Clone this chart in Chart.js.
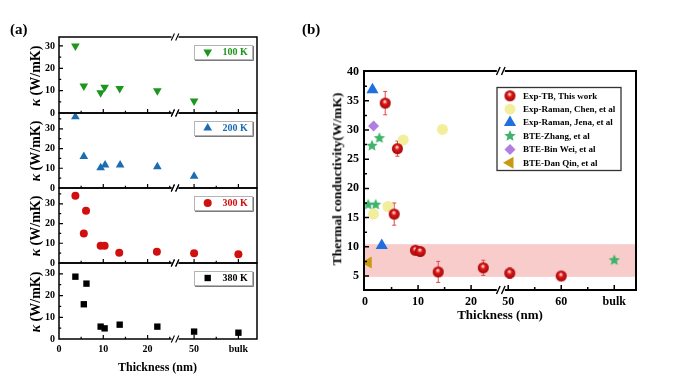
<!DOCTYPE html>
<html><head><meta charset="utf-8">
<script src="https://cdn.jsdelivr.net/npm/chart.js@4/dist/chart.umd.min.js"></script>
<style>
body{margin:0;background:#fff;}
#wrap{position:relative;width:692px;height:378px;overflow:hidden;background:#fff;font-family:'Liberation Serif','Times New Roman',serif;color:#000}
canvas{position:absolute;left:0;top:0}
.lbl{position:absolute;white-space:nowrap;font-weight:bold;line-height:1}
</style></head>
<body><div id="wrap">
<canvas id="a1" width="692" height="378"></canvas>
<canvas id="a2" width="692" height="378"></canvas>
<canvas id="a3" width="692" height="378"></canvas>
<canvas id="a4" width="692" height="378"></canvas>
<canvas id="b1" width="692" height="378"></canvas>
<div class="lbl" style="left:10px;top:22px;font-size:15px">(a)</div>
<div class="lbl" style="left:302px;top:22px;font-size:15px">(b)</div>
<div class="lbl" style="left:157.5px;top:366.5px;font-size:12px;transform:translate(-50%,-50%)">Thickness (nm)</div>
<div class="lbl" style="left:500px;top:314px;font-size:13px;transform:translate(-50%,-50%)">Thickness (nm)</div>
<div class="lbl" style="left:336.5px;top:179px;font-size:13.5px;transform:translate(-50%,-50%) rotate(-90deg)">Thermal conductivity(W/mK)</div>
<div class="lbl" style="left:35.5px;top:76px;font-size:14px;transform:translate(-50%,-50%) rotate(-90deg)"><i>κ</i> (W/mK)</div>
<div class="lbl" style="left:35.5px;top:151px;font-size:14px;transform:translate(-50%,-50%) rotate(-90deg)"><i>κ</i> (W/mK)</div>
<div class="lbl" style="left:35.5px;top:226px;font-size:14px;transform:translate(-50%,-50%) rotate(-90deg)"><i>κ</i> (W/mK)</div>
<div class="lbl" style="left:35.5px;top:302px;font-size:14px;transform:translate(-50%,-50%) rotate(-90deg)"><i>κ</i> (W/mK)</div>
</div>
<script>
// ---------------- Panel (a) data ----------------
const xTickValsA = [0, 10, 20, 50, 'bulk'];
const xTickLabelsA = ['0', '10', '20', '50', 'bulk'];
const yTickValsA = [0, 10, 20, 30];

const thick100 = [3.7, 5.6, 9.4, 10.3, 13.7, 22.2, 50];
const kappa100 = [30.0, 12.1, 9.1, 11.5, 11.0, 10.0, 5.4];
const thick200 = [3.7, 5.6, 9.4, 10.4, 13.8, 22.2, 50];
const kappa200 = [36.1, 15.9, 10.3, 11.6, 11.6, 10.8, 6.0];
const thick300 = [3.7, 6.1, 5.6, 9.4, 10.3, 13.6, 22.1, 50, 'bulk'];
const kappa300 = [34.1, 26.5, 15.0, 8.8, 8.8, 5.2, 5.7, 4.9, 4.4];
const thick380 = [3.7, 6.2, 5.6, 9.4, 10.3, 13.7, 22.2, 50, 'bulk'];
const kappa380 = [28.7, 25.5, 16.0, 5.7, 4.9, 6.6, 5.7, 3.4, 2.9];

// ---------------- Panel (b) data ----------------
const xTickValsB = [0, 10, 20, 50, 60, 'bulk'];
const xTickLabelsB = ['0', '10', '20', '50', '60', 'bulk'];
const yTickValsB = [5, 10, 15, 20, 25, 30, 35, 40];

const thickTB = [3.8, 6.1, 5.5, 9.5, 10.4, 13.8, 22.3, 50.3, 60.0];
const kappaTB = [34.6, 26.8, 15.6, 9.4, 9.2, 5.7, 6.4, 5.5, 5.0];
const errTB = [2.0, 1.3, 1.9, 0.5, 0.5, 1.8, 1.3, 0.9, 0.6];
const thickChen = [1.6, 4.3, 7.2, 14.6];
const kappaChen = [15.6, 16.9, 28.3, 30.1];
const thickJena = [1.4, 3.15];
const kappaJena = [36.9, 10.2];
const thickZhang = [0.6, 2.0, 1.3, 2.7, 'bulk'];
const kappaZhang = [17.2, 17.2, 27.3, 28.6, 7.7];
const thickWei = [1.6];
const kappaWei = [30.7];
const thickQin = [0.6];
const kappaQin = [7.3];
const bandB = [4.85, 10.45];

// ---------------- broken-axis mapping ----------------
const BULK_A = 60, SHIFT_A = 19.5, BREAK_A = 26.2;
const BULK_B = 70, SHIFT_B = 23, BREAK_B = 25.6;
function mapA(t){ if (t === 'bulk') return BULK_A - SHIFT_A; return t > 30 ? t - SHIFT_A : t; }
function mapB(t){ if (t === 'bulk') return BULK_B - SHIFT_B; return t > 30 ? t - SHIFT_B : t; }

const FONT = "'Liberation Serif','Times New Roman',serif";
Chart.defaults.font.family = FONT;
Chart.defaults.font.weight = 'bold';
Chart.defaults.color = '#000';
Chart.defaults.animation = false;

function makeStar(color, R){
  const s = Math.ceil(R*2+2); const c = document.createElement('canvas'); c.width = c.height = s;
  const g = c.getContext('2d'); g.fillStyle = color; g.beginPath();
  for (let i=0;i<10;i++){ const r = i%2 ? R*0.45 : R; const a = -Math.PI/2 + i*Math.PI/5; g.lineTo(s/2 + r*Math.cos(a), s/2 + r*Math.sin(a)); }
  g.closePath(); g.fill(); return c;
}
function makeSphere(R){
  const s = Math.ceil(R*2+2); const c = document.createElement('canvas'); c.width = c.height = s;
  const g = c.getContext('2d'); const cx = s/2, cy = s/2;
  const grd = g.createRadialGradient(cx - R*0.1, cy - R*0.35, 0, cx, cy, R);
  grd.addColorStop(0, '#ffffff'); grd.addColorStop(0.18, '#f7b0b0'); grd.addColorStop(0.42, '#e01818'); grd.addColorStop(1, '#a00606');
  g.fillStyle = grd; g.beginPath(); g.arc(cx, cy, R, 0, Math.PI*2); g.fill(); return c;
}

function framePlugin(cfg){
  return {
    id: 'frame',
    beforeDatasetsDraw(chart){
      const {ctx, chartArea: a, scales: {x, y}} = chart;
      ctx.save();
      if (cfg.band){
        const y1 = y.getPixelForValue(cfg.band[1]), y0 = y.getPixelForValue(cfg.band[0]);
        ctx.fillStyle = 'rgba(240,128,128,0.4)';
        ctx.fillRect(a.left, y1, a.right - a.left, y0 - y1);
      }
      if (cfg.err){
        ctx.strokeStyle = '#e04848'; ctx.lineWidth = 1;
        const e = cfg.err;
        e.xs.forEach((t, i) => {
          const px = x.getPixelForValue(e.map(t));
          const pt = y.getPixelForValue(e.ys[i] + e.err[i]), pb = y.getPixelForValue(e.ys[i] - e.err[i]);
          ctx.beginPath();
          ctx.moveTo(px, pt); ctx.lineTo(px, pb);
          ctx.moveTo(px-2, pt); ctx.lineTo(px+2, pt);
          ctx.moveTo(px-2, pb); ctx.lineTo(px+2, pb);
          ctx.stroke();
        });
      }
      ctx.restore();
    },
    afterDraw(chart){
      const {ctx, chartArea: a, scales: {x, y}} = chart;
      const lw = cfg.lw;
      ctx.save();
      ctx.strokeStyle = '#000'; ctx.lineWidth = lw;
      const bx = x.getPixelForValue(cfg.breakAt); const g = cfg.gap;
      ctx.beginPath();
      ctx.moveTo(a.left, a.top - lw/2); ctx.lineTo(a.left, a.bottom + lw/2);
      ctx.moveTo(a.right, a.top - lw/2); ctx.lineTo(a.right, a.bottom + lw/2);
      [a.top, a.bottom].forEach(yy => {
        ctx.moveTo(a.left, yy); ctx.lineTo(bx - g, yy);
        ctx.moveTo(bx + g, yy); ctx.lineTo(a.right, yy);
      });
      ctx.stroke();
      // break slashes
      ctx.lineWidth = cfg.slw;
      ctx.beginPath();
      [a.top, a.bottom].forEach(yy => {
        [-cfg.sd, cfg.sd].forEach(dx => {
          ctx.moveTo(bx + dx - cfg.sx, yy + cfg.sy); ctx.lineTo(bx + dx + cfg.sx, yy - cfg.sy);
        });
      });
      ctx.stroke();
      // inward ticks
      ctx.lineWidth = cfg.tw;
      ctx.beginPath();
      cfg.xMajor.forEach(v => { const p = x.getPixelForValue(v); ctx.moveTo(p, a.bottom); ctx.lineTo(p, a.bottom - cfg.maj); });
      cfg.xMinor.forEach(v => { const p = x.getPixelForValue(v); ctx.moveTo(p, a.bottom); ctx.lineTo(p, a.bottom - cfg.min); });
      cfg.yMajor.forEach(v => { const p = y.getPixelForValue(v); ctx.moveTo(a.left, p); ctx.lineTo(a.left + cfg.maj, p); });
      cfg.yMinor.forEach(v => { const p = y.getPixelForValue(v); ctx.moveTo(a.left, p); ctx.lineTo(a.left + cfg.min, p); });
      ctx.stroke();
      // legend
      const L = cfg.legend;
      if (L){
        ctx.lineWidth = 1;
        if (L.shadow){
          ctx.strokeStyle = '#b4b4b4';
          ctx.strokeRect(L.x + 0.5, L.y + 0.5, L.w, L.h);
          ctx.strokeStyle = '#7a7a7a';
          ctx.beginPath(); ctx.moveTo(L.x + 1, L.y + L.h + 1.5); ctx.lineTo(L.x + L.w + 1.5, L.y + L.h + 1.5); ctx.lineTo(L.x + L.w + 1.5, L.y + 1); ctx.stroke();
        } else {
          ctx.strokeStyle = '#333'; ctx.lineWidth = 1.3;
          ctx.strokeRect(L.x, L.y, L.w, L.h);
        }
        L.items.forEach((it, i) => {
          const cy = L.y + L.first + i * L.step;
          ctx.fillStyle = it.color; ctx.strokeStyle = it.color;
          Chart.helpers.drawPoint(ctx, {pointStyle: it.style, radius: it.r, rotation: it.rot || 0, borderWidth: 0}, L.mx, cy);
          ctx.fillStyle = it.textColor || '#000';
          ctx.font = 'bold ' + L.fs + 'px ' + FONT;
          ctx.textBaseline = 'middle'; ctx.textAlign = 'left';
          ctx.fillText(it.label, L.tx, cy + 0.5);
        });
      }
      ctx.restore();
    }
  };
}

function makeA(id, top, bottom, ymax, xs, ys, style, radius, rot, color, name, showX){
  const xScale = {
    type: 'linear', min: 0, max: 44.7, display: showX,
    grid: {display: false, drawTicks: false}, border: {display: false},
    ticks: {autoSkip: false, maxRotation: 0, padding: 4, font: {size: 10, weight: 'bold'}, callback: (v, i) => xTickLabelsA[i]},
    afterBuildTicks: s => { s.ticks = xTickValsA.map(t => ({value: mapA(t)})); }
  };
  if (showX) xScale.afterFit = s => { s.height = 20; };
  const yMinor = [5, 15, 25, 35].filter(v => v < ymax);
  new Chart(document.getElementById(id), {
    type: 'scatter',
    data: {datasets: [{
      data: xs.map((t, i) => ({x: mapA(t), y: ys[i]})),
      pointStyle: style, pointRadius: radius, pointRotation: rot,
      pointBackgroundColor: color, pointBorderColor: color, pointBorderWidth: 0, clip: false
    }]},
    options: {
      responsive: false, animation: false, events: [],
      layout: {padding: {left: 19, right: 692 - 257, top: top, bottom: 378 - bottom - (showX ? 20 : 0)}},
      plugins: {legend: {display: false}, tooltip: {enabled: false}},
      scales: {
        x: xScale,
        y: {
          type: 'linear', min: 0, max: ymax,
          grid: {display: false, drawTicks: false}, border: {display: false},
          ticks: {padding: 4, font: {size: 10, weight: 'bold'}, callback: v => String(v)},
          afterBuildTicks: s => { s.ticks = yTickValsA.map(v => ({value: v})); },
          afterFit: s => { s.width = 40; }
        }
      }
    },
    plugins: [framePlugin({
      lw: 1.5, breakAt: BREAK_A, gap: 3.5, slw: 1.1, sd: 2.2, sx: 1.6, sy: 3.5,
      tw: 1.2, maj: 4, min: 2.2,
      xMajor: [10, 20, mapA(50), mapA('bulk')], xMinor: [5, 15, 25, mapA(55)],
      yMajor: [10, 20, 30], yMinor: yMinor,
      legend: {shadow: true, x: 194, y: top + 8, w: 58, h: 14, first: 7, step: 0, mx: 207.7, tx: 222.5, fs: 10,
        items: [{label: name, style: style, r: radius, rot: rot, color: color, textColor: color}]}
    })]
  });
}

makeA('a1', 37, 113, 34, thick100, kappa100, 'triangle', 5, 180, '#1c961c', '100 K', false);
makeA('a2', 113, 188, 38, thick200, kappa200, 'triangle', 5, 0, '#1b6db3', '200 K', false);
makeA('a3', 188, 263, 38, thick300, kappa300, 'circle', 4, 0, '#d10f0f', '300 K', false);
makeA('a4', 263, 339, 35, thick380, kappa380, 'rect', 4.5, 0, '#000000', '380 K', true);

// ---------------- Panel (b) ----------------
const sphere = makeSphere(5.5);
const star = makeStar('#3db36b', 6);
const seriesB = [
  {label: 'Exp-TB, This work', xs: thickTB, ys: kappaTB, style: sphere, r: 5.5, rot: 0, color: '#d01010'},
  {label: 'Exp-Raman, Chen, et al', xs: thickChen, ys: kappaChen, style: 'circle', r: 5.5, rot: 0, color: '#f3ee9c'},
  {label: 'Exp-Raman, Jena, et al', xs: thickJena, ys: kappaJena, style: 'triangle', r: 7, rot: 0, color: '#1f6fe0'},
  {label: 'BTE-Zhang, et al', xs: thickZhang, ys: kappaZhang, style: star, r: 6, rot: 0, color: '#3db36b'},
  {label: 'BTE-Bin Wei, et al', xs: thickWei, ys: kappaWei, style: 'rectRot', r: 5.5, rot: 0, color: '#b07ee0'},
  {label: 'BTE-Dan Qin, et al', xs: thickQin, ys: kappaQin, style: 'triangle', r: 7, rot: -90, color: '#c99a10'}
];

new Chart(document.getElementById('b1'), {
  type: 'scatter',
  data: {datasets: seriesB.map(s => ({
    label: s.label,
    data: s.xs.map((t, i) => ({x: mapB(t), y: s.ys[i]})),
    pointStyle: s.style, pointRadius: s.r, pointRotation: s.rot,
    pointBackgroundColor: s.color, pointBorderColor: s.color, pointBorderWidth: 0, clip: 0
  }))},
  options: {
    responsive: false, animation: false, events: [],
    layout: {padding: {left: 324, right: 692 - 636, top: 71, bottom: 378 - 290 - 20}},
    plugins: {legend: {display: false}, tooltip: {enabled: false}},
    scales: {
      x: {
        type: 'linear', min: -0.2, max: 51.1,
        grid: {display: false, drawTicks: false}, border: {display: false},
        ticks: {autoSkip: false, maxRotation: 0, padding: 5, font: {size: 12, weight: 'bold'}, callback: (v, i) => xTickLabelsB[i]},
        afterBuildTicks: s => { s.ticks = xTickValsB.map(t => ({value: mapB(t)})); },
        afterFit: s => { s.height = 20; }
      },
      y: {
        type: 'linear', min: 2.6, max: 40.1,
        grid: {display: false, drawTicks: false}, border: {display: false},
        ticks: {padding: 5, font: {size: 12, weight: 'bold'}, callback: v => String(v)},
        afterBuildTicks: s => { s.ticks = yTickValsB.map(v => ({value: v})); },
        afterFit: s => { s.width = 40; }
      }
    }
  },
  plugins: [framePlugin({
    lw: 2, breakAt: BREAK_B, gap: 4, slw: 1.4, sd: 2.5, sx: 1.8, sy: 4,
    tw: 1.5, maj: 5, min: 3,
    xMajor: [10, 20, mapB(50), mapB(60), mapB('bulk')], xMinor: [5, 15, mapB(55), mapB(65)],
    yMajor: [5, 10, 15, 20, 25, 30, 35], yMinor: [7.5, 12.5, 17.5, 22.5, 27.5, 32.5, 37.5],
    band: bandB,
    err: {xs: thickTB, ys: kappaTB, err: errTB, map: mapB},
    legend: {shadow: false, x: 497, y: 87.5, w: 124, h: 83, first: 8.3, step: 13.4, mx: 510, tx: 523, fs: 9,
      items: seriesB.map(s => ({label: s.label, style: s.style, r: s.r, rot: s.rot, color: s.color, textColor: '#000'}))}
  })]
});
</script>
</body></html>
